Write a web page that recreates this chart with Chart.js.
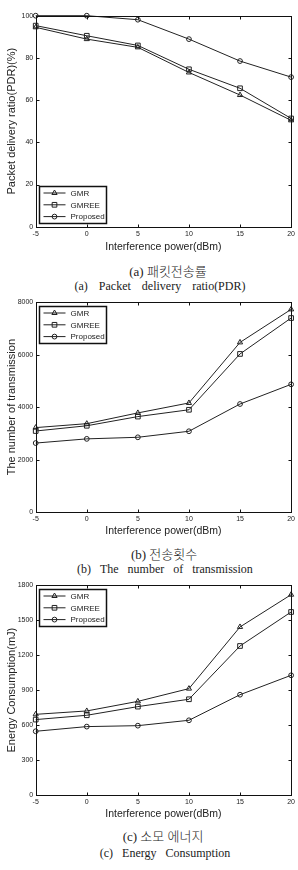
<!DOCTYPE html>
<html>
<head>
<meta charset="utf-8">
<script src="https://cdn.jsdelivr.net/npm/chart.js@4.4.0/dist/chart.umd.min.js"></script>
<style>
  body { margin: 0; background: #fff; width: 298px; height: 870px; position: relative; overflow: hidden; }
  .box { position: absolute; left: 0; width: 298px; }
  .cap { position: absolute; width: 298px; text-align: center; white-space: nowrap;
         font-family: "Liberation Serif", "Noto Sans CJK KR", serif; font-size: 12px; line-height: 14px; color: #222; }
  .ko { font-size: 13px; font-weight: 300; }
  .en { word-spacing: 6px; }
</style>
</head>
<body>
<div class="box" style="top:0;height:255px"><canvas id="c1"></canvas></div>
<div class="cap ko" style="top:265px;left:19px">(a) 패킷전송률</div>
<div class="cap en" style="top:279px;left:11px;word-spacing:8px">(a) Packet delivery ratio(PDR)</div>

<div class="box" style="top:290px;height:249px"><canvas id="c2"></canvas></div>
<div class="cap ko" style="top:548px;left:15px">(b) 전송횟수</div>
<div class="cap en" style="top:562px;left:16px">(b) The number of transmission</div>

<div class="box" style="top:572px;height:250px"><canvas id="c3"></canvas></div>
<div class="cap ko" style="top:830px;left:14px">(c) 소모 에너지</div>
<div class="cap en" style="top:846px;left:16px">(c) Energy Consumption</div>

<script>
// x axis: interference power (dBm)
const xValues = [-5, 0, 5, 10, 15, 20];
const seriesNames = ["GMR", "GMREE", "Proposed"];

// (a) packet delivery ratio (%)
const pdrGMR      = [94.5, 88.9, 85.0, 73.1, 62.4, 50.4];
const pdrGMREE    = [95.3, 90.5, 85.9, 74.6, 65.6, 51.3];
const pdrProposed = [100, 100, 98.1, 88.9, 78.5, 70.9];
const pdrTicks = [0, 20, 40, 60, 80, 100];

// (b) number of transmission
const txGMR      = [3220, 3370, 3780, 4160, 6470, 7730];
const txGMREE    = [3090, 3290, 3640, 3900, 6030, 7400];
const txProposed = [2630, 2790, 2850, 3080, 4120, 4870];
const txTicks = [0, 2000, 4000, 6000, 8000];

// (c) energy consumption (mJ)
const enGMR      = [693, 722, 804, 913, 1441, 1717];
const enGMREE    = [648, 685, 759, 822, 1278, 1569];
const enProposed = [548, 588, 596, 642, 861, 1027];
const enTicks = [0, 300, 600, 900, 1200, 1500, 1800];

Chart.defaults.font.family = '"Liberation Sans", Arial, sans-serif';
Chart.defaults.color = "#222";

const styles = [
  { pointStyle: "triangle", pointRadius: 3 },
  { pointStyle: "rect", pointRadius: 3.3 },
  { pointStyle: "circle", pointRadius: 2.4 }
];

function drawMark(ctx, style, x, y, r) {
  ctx.beginPath();
  if (style === "circle") {
    ctx.arc(x, y, r, 0, Math.PI * 2);
  } else if (style === "rect") {
    const s = r * Math.SQRT1_2;
    ctx.rect(x - s, y - s, 2 * s, 2 * s);
  } else {
    let a = 0;
    ctx.moveTo(x + Math.sin(a) * r, y - Math.cos(a) * r);
    a += Math.PI * 2 / 3;
    ctx.lineTo(x + Math.sin(a) * r, y - Math.cos(a) * r);
    a += Math.PI * 2 / 3;
    ctx.lineTo(x + Math.sin(a) * r, y - Math.cos(a) * r);
    ctx.closePath();
  }
  ctx.stroke();
}

// box around the plot with inward tick marks on all four sides
const framePlugin = {
  id: "frame",
  afterDatasetsDraw(chart) {
    const { ctx, chartArea: a, scales: { x, y } } = chart;
    const L = Math.round(a.left) + 0.5, R = Math.round(a.right) + 0.5;
    const T = Math.round(a.top) + 0.5, B = Math.round(a.bottom) + 0.5;
    ctx.save();
    ctx.strokeStyle = "#111";
    ctx.lineWidth = 1;
    ctx.strokeRect(L, T, R - L, B - T);
    ctx.beginPath();
    x.ticks.forEach(t => {
      const px = Math.round(x.getPixelForValue(t.value)) + 0.5;
      ctx.moveTo(px, B); ctx.lineTo(px, B - 3);
      ctx.moveTo(px, T); ctx.lineTo(px, T + 3);
    });
    y.ticks.forEach(t => {
      const py = Math.round(y.getPixelForValue(t.value)) + 0.5;
      ctx.moveTo(L, py); ctx.lineTo(L + 3, py);
      ctx.moveTo(R, py); ctx.lineTo(R - 3, py);
    });
    ctx.stroke();
    ctx.restore();
  }
};

// legend box inside the plot, top-left or bottom-left
const boxLegend = {
  id: "boxLegend",
  afterDraw(chart, args, opts) {
    const { ctx, chartArea: a } = chart;
    const w = 67, h = 37;
    const left = Math.round(a.left + 3.3) + 0.5;
    const top = opts.at === "bottom" ? Math.round(a.bottom - 3.7 - h) + 0.5 : Math.round(a.top + 3.7) + 0.5;
    ctx.save();
    ctx.fillStyle = "#fff";
    ctx.fillRect(left, top, w, h);
    ctx.strokeStyle = "#111";
    ctx.lineWidth = 1.5;
    ctx.strokeRect(left, top, w, h);
    ctx.lineWidth = 1;
    ctx.font = '8px "Liberation Sans", Arial, sans-serif';
    ctx.textBaseline = "middle";
    ctx.textAlign = "left";
    chart.data.datasets.forEach((ds, i) => {
      const yy = top + 6.5 + i * 11.8;
      ctx.strokeStyle = "#222";
      ctx.beginPath();
      ctx.moveTo(left + 4, yy); ctx.lineTo(left + 26, yy);
      ctx.stroke();
      drawMark(ctx, ds.pointStyle, left + 15, yy, ds.pointRadius);
      ctx.fillStyle = "#222";
      ctx.fillText(ds.label, left + 31, yy + 0.5);
    });
    ctx.restore();
  }
};

function makeChart(id, series, yTicks, yTitle, areaTop, areaBottom, canvasH, legendAt) {
  const datasets = series.map((vals, i) => ({
    label: seriesNames[i],
    data: vals.map((v, j) => ({ x: xValues[j], y: v })),
    borderColor: "#222",
    borderWidth: 1,
    pointStyle: styles[i].pointStyle,
    pointRadius: styles[i].pointRadius,
    pointBorderWidth: 1,
    pointBorderColor: "#222",
    pointBackgroundColor: "rgba(0,0,0,0)",
    tension: 0,
    clip: false
  }));
  return new Chart(document.getElementById(id), {
    type: "line",
    data: { datasets },
    options: {
      responsive: true,
      maintainAspectRatio: false,
      animation: false,
      events: [],
      layout: { padding: { top: areaTop, right: 5.3, left: 0, bottom: 0 } },
      plugins: {
        legend: { display: false },
        tooltip: { enabled: false },
        boxLegend: { at: legendAt }
      },
      scales: {
        x: {
          type: "linear",
          min: xValues[0],
          max: xValues[xValues.length - 1],
          afterBuildTicks: s => { s.ticks = xValues.map(v => ({ value: v })); },
          afterFit: s => { s.height = canvasH - areaBottom; },
          grid: { display: false, drawTicks: false },
          border: { display: false },
          ticks: { font: { size: 7 }, padding: 3, maxRotation: 0, callback: v => String(v) },
          title: { display: true, text: "Interference power(dBm)", font: { size: 10.5 }, padding: { top: 0, bottom: 1.7 } }
        },
        y: {
          min: yTicks[0],
          max: yTicks[yTicks.length - 1],
          afterBuildTicks: s => { s.ticks = yTicks.map(v => ({ value: v })); },
          afterFit: s => { s.width = 35.7; },
          grid: { display: false, drawTicks: false },
          border: { display: false },
          ticks: { font: { size: 7 }, padding: 2.5, callback: v => String(v) },
          title: { display: true, text: yTitle, font: { size: 11 }, padding: { top: 5, bottom: 0 } }
        }
      }
    },
    plugins: [framePlugin, boxLegend]
  });
}

makeChart("c1", [pdrGMR, pdrGMREE, pdrProposed], pdrTicks, "Packet delivery ratio(PDR)(%)", 15.7, 226.7, 255, "bottom");
makeChart("c2", [txGMR, txGMREE, txProposed], txTicks, "The number of transmission", 12.3, 222, 249, "top");
makeChart("c3", [enGMR, enGMREE, enProposed], enTicks, "Energy Consumption(mJ)", 13, 223.3, 250, "top");
</script>
</body>
</html>
